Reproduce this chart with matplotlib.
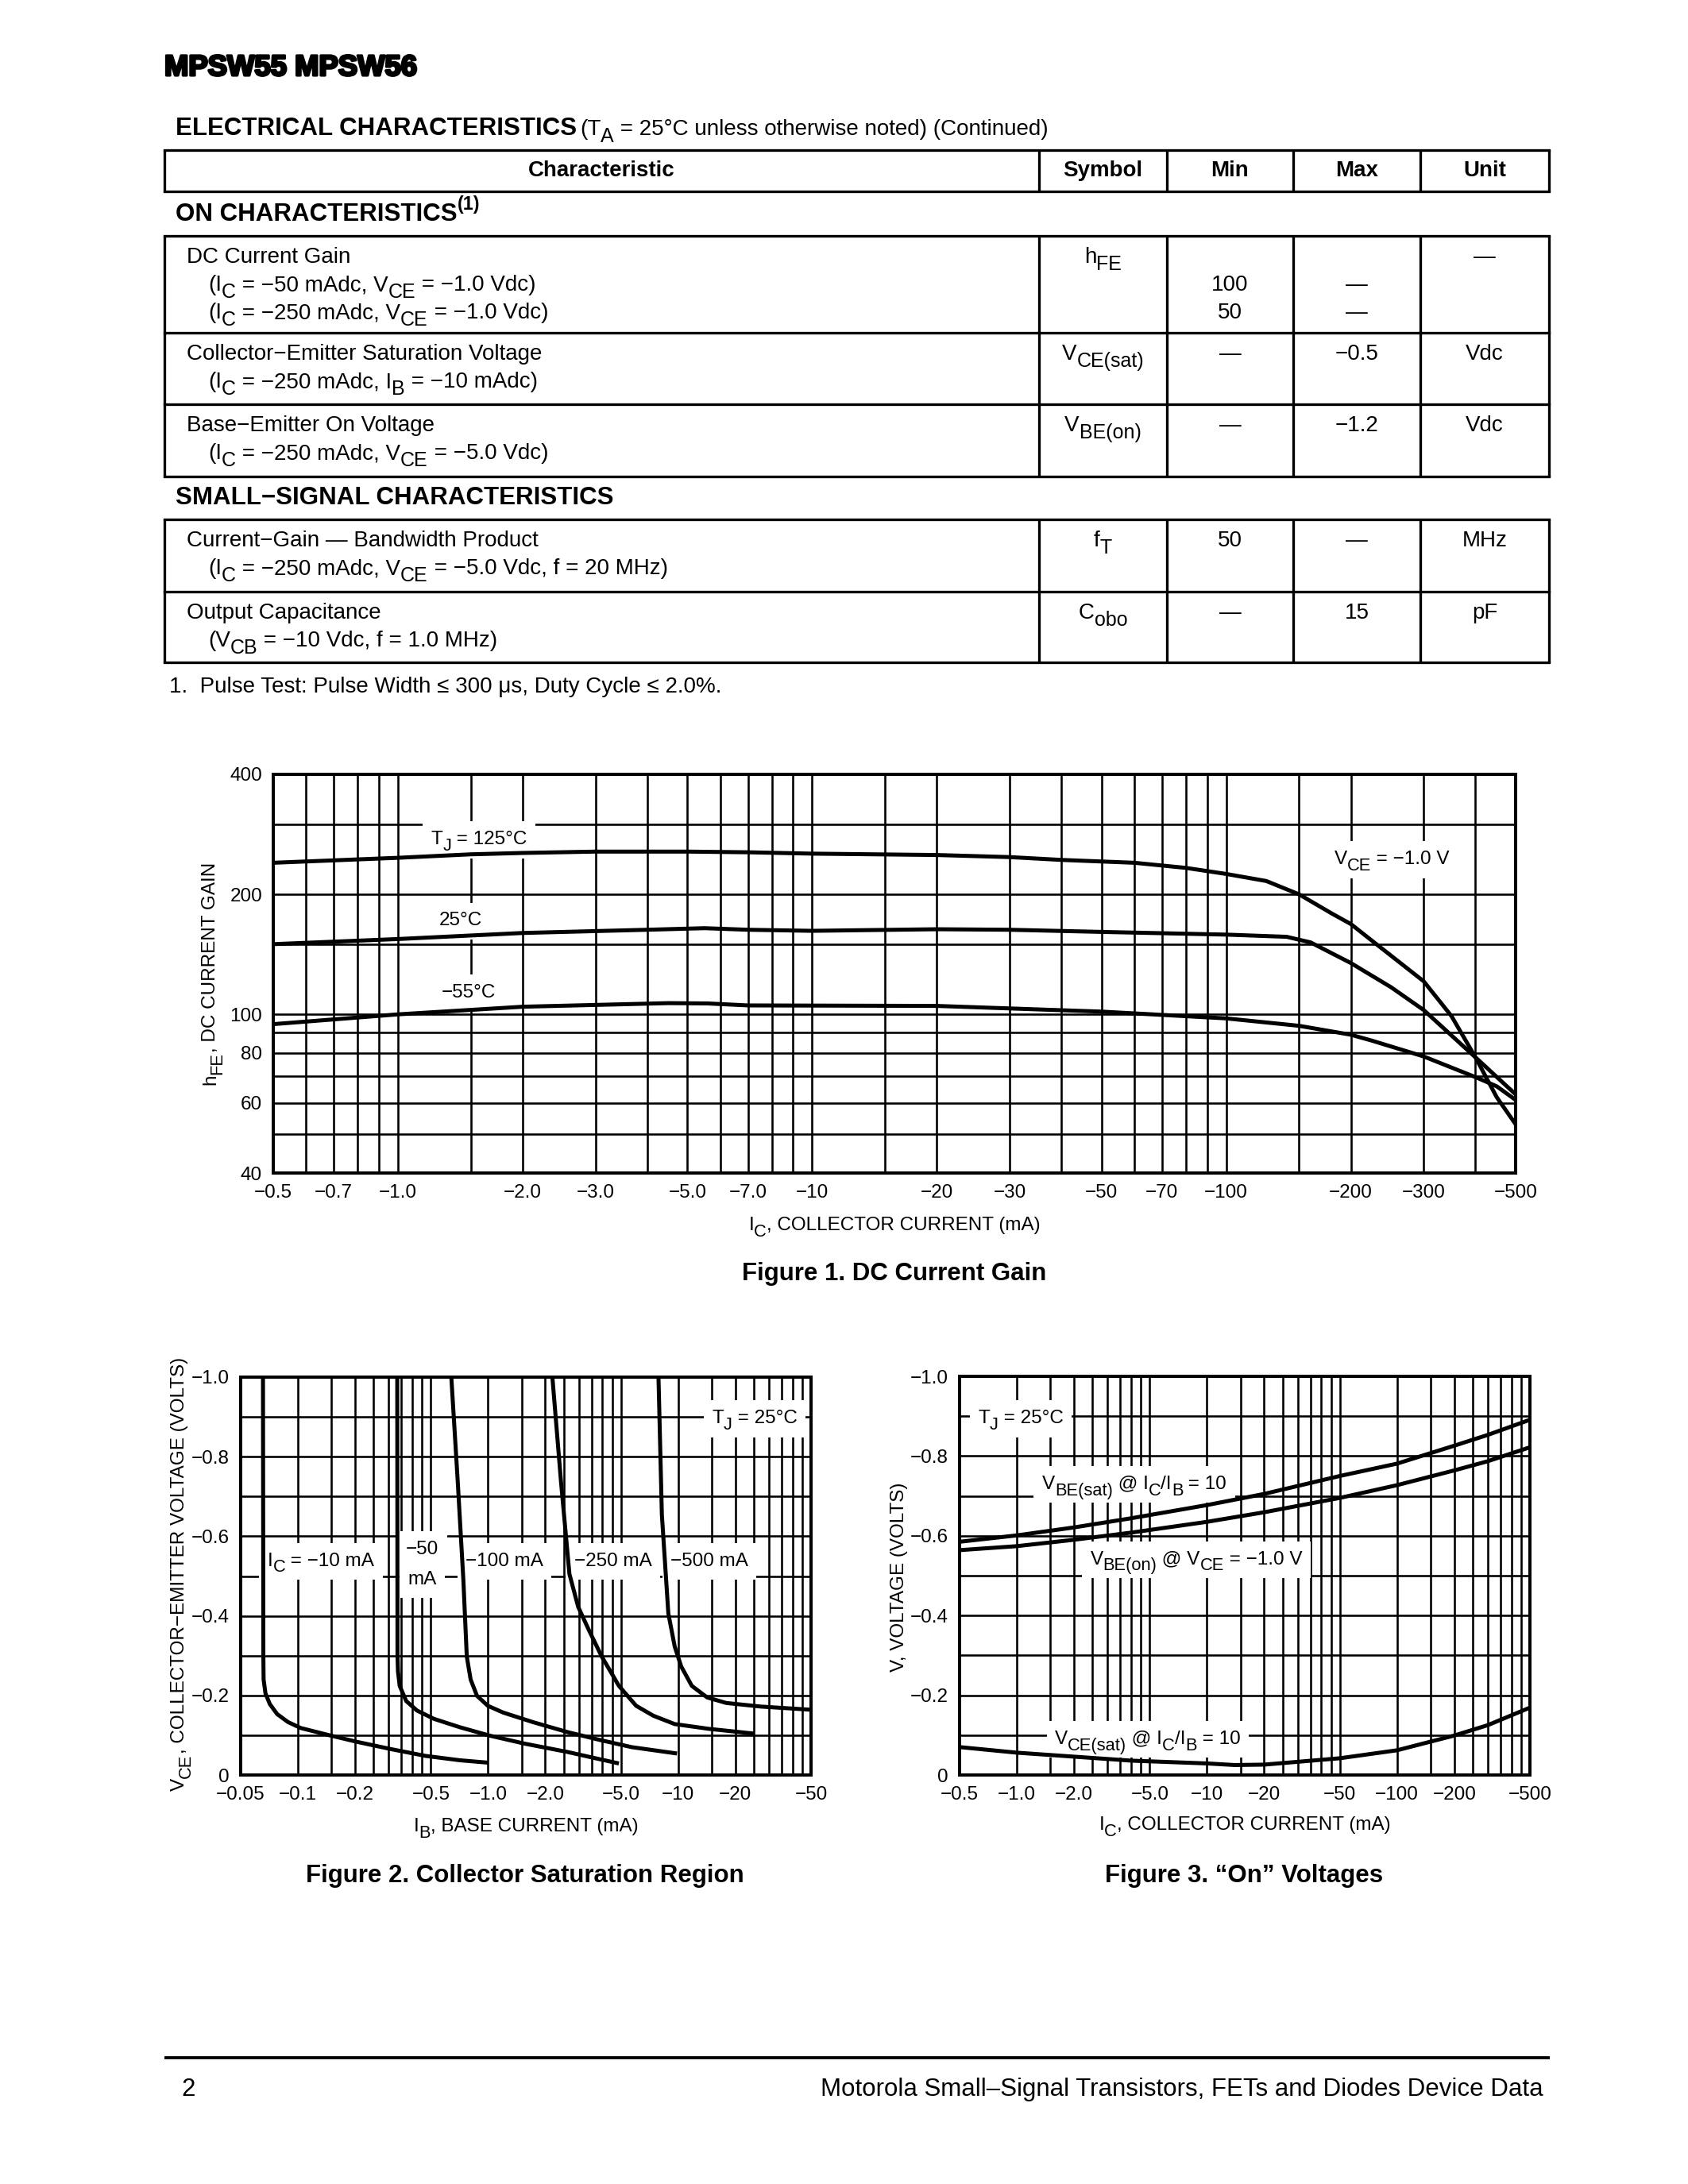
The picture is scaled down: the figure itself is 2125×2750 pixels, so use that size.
import re
import numpy as np
import matplotlib
matplotlib.use("Agg")
import matplotlib.pyplot as plt
import matplotlib.patheffects as pe
from matplotlib.font_manager import FontProperties
from matplotlib.patches import Rectangle
from matplotlib.ticker import NullFormatter
from matplotlib import transforms

W, H = 2125, 2750
SANS = 'Liberation Sans'
plt.rcParams['font.family'] = SANS

# ---------------- table text ----------------
col_heads = ['Characteristic', 'Symbol', 'Min', 'Max', 'Unit']
on_rows = [
    (['DC Current Gain',
      '(I_{C} = −50 mAdc, V_{CE} = −1.0 Vdc)',
      '(I_{C} = −250 mAdc, V_{CE} = −1.0 Vdc)'],
     'h_{FE}', ['', '100', '50'], ['', '—', '—'], ['—']),
    (['Collector−Emitter Saturation Voltage',
      '(I_{C} = −250 mAdc, I_{B} = −10 mAdc)'],
     'V_{CE(sat)}', ['—'], ['−0.5'], ['Vdc']),
    (['Base−Emitter On Voltage',
      '(I_{C} = −250 mAdc, V_{CE} = −5.0 Vdc)'],
     'V_{BE(on)}', ['—'], ['−1.2'], ['Vdc']),
]
ss_rows = [
    (['Current−Gain — Bandwidth Product',
      '(I_{C} = −250 mAdc, V_{CE} = −5.0 Vdc, f = 20 MHz)'],
     'f_{T}', ['50'], ['—'], ['MHz']),
    (['Output Capacitance',
      '(V_{CB} = −10 Vdc, f = 1.0 MHz)'],
     'C_{obo}', ['—'], ['15'], ['pF']),
]

# ---------------- Figure 1 data: hFE vs IC (mA, magnitude) ----------------
hfe125_ic = [0.5, 1.0, 1.5, 2.0, 3.0, 5.0, 7.0, 10, 20, 30, 40, 60, 80, 100,
             125, 150, 180, 200, 225, 300, 350, 400, 450, 500]
hfe125 = [240, 247, 252, 254, 256, 256, 255, 253, 251, 248, 244, 240, 233, 225,
          216, 200, 179, 168.5, 153, 121, 99, 78, 62, 53]
hfe25_ic = [0.5, 1.0, 2.0, 4.0, 5.5, 7.0, 10, 20, 30, 50, 100, 140, 160, 200,
            250, 300, 400, 500]
hfe25 = [150, 154.5, 160, 163, 164.5, 163, 162, 163.5, 163, 161, 158.5, 156.5,
         151.5, 134.5, 117, 102.5, 78, 63]
hfe55_ic = [0.5, 1.0, 2.0, 4.5, 5.6, 7.0, 10, 20, 50, 100, 150, 200, 225, 300,
            400, 450, 500]
hfe55 = [94.5, 100, 104.5, 106.7, 106.5, 105.3, 105.2, 105, 101.6, 97.7, 93.6,
         88.9, 85.9, 78.4, 69.6, 66, 61]

f1_xticks = [0.5, 0.7, 1, 2, 3, 5, 7, 10, 20, 30, 50, 70, 100, 200, 300, 500]
f1_xlabels = ['−0.5', '−0.7', '−1.0', '−2.0', '−3.0', '−5.0', '−7.0', '−10',
              '−20', '−30', '−50', '−70', '−100', '−200', '−300', '−500']
f1_xgrid = [0.5, 0.6, 0.7, 0.8, 0.9, 1, 1.5, 2, 3, 4, 5, 6, 7, 8, 9, 10, 15,
            20, 30, 40, 50, 60, 70, 80, 90, 100, 150, 200, 300, 400, 500]
f1_yticks = [40, 60, 80, 100, 200, 400]
f1_ygrid = [40, 50, 60, 70, 80, 90, 100, 150, 200, 300, 400]

# ---------------- Figure 2 data: VCE vs IB (mA, volts, magnitude) ----------------
ic10_ib = [0.0655, 0.0658, 0.066, 0.0675, 0.0712, 0.0778, 0.0887, 0.1036, 0.149,
           0.206, 0.309, 0.469, 0.711, 1.0]
ic10_v = [1.0, 0.30, 0.24, 0.205, 0.178, 0.153, 0.133, 0.118, 0.099, 0.083,
          0.065, 0.048, 0.037, 0.031]
ic50_ib = [0.333, 0.334, 0.336, 0.343, 0.371, 0.423, 0.520, 0.711, 1.02, 1.55,
           2.61, 3.76, 4.88]
ic50_v = [1.0, 0.30, 0.26, 0.224, 0.186, 0.162, 0.141, 0.120, 0.099, 0.079,
          0.058, 0.041, 0.029]
ic100_ib = [0.641, 0.693, 0.742, 0.773, 0.81, 0.875, 0.997, 1.20, 1.72, 2.61,
            3.96, 5.70, 9.86]
ic100_v = [1.0, 0.737, 0.489, 0.298, 0.240, 0.199, 0.174, 0.157, 0.133, 0.108,
           0.087, 0.070, 0.054]
ic250_ib = [2.18, 2.42, 2.68, 2.98, 3.39, 3.96, 4.88, 6.01, 7.40, 9.59, 14.5, 25.1]
ic250_v = [1.0, 0.737, 0.505, 0.4225, 0.3645, 0.298, 0.224, 0.174, 0.149,
           0.128, 0.116, 0.104]
ic500_ib = [7.88, 8.21, 8.88, 9.59, 10.37, 11.8, 14.2, 17.9, 27.2, 50]
ic500_v = [1.0, 0.6545, 0.406, 0.323, 0.273, 0.224, 0.195, 0.181, 0.172, 0.164]

f2_xticks = [0.05, 0.1, 0.2, 0.5, 1, 2, 5, 10, 20, 50]
f2_xlabels = ['−0.05', '−0.1', '−0.2', '−0.5', '−1.0', '−2.0', '−5.0', '−10',
              '−20', '−50']

# ---------------- Figure 3 data: V vs IC (mA, volts, magnitude) ----------------
on_ic = [0.5, 1, 2, 4, 10, 20, 50, 100, 200, 300, 500]
vbe_sat = [0.585, 0.601, 0.621, 0.644, 0.677, 0.705, 0.750, 0.781, 0.826, 0.853, 0.891]
vbe_on = [0.564, 0.574, 0.590, 0.608, 0.635, 0.659, 0.695, 0.727, 0.764, 0.787, 0.822]
sat_ic = [0.5, 1, 2, 4, 10, 14, 20, 50, 100, 200, 300, 500]
vce_sat = [0.070, 0.056, 0.046, 0.036, 0.029, 0.025, 0.026, 0.042, 0.062, 0.099, 0.125, 0.169]

f3_xticks = [0.5, 1, 2, 5, 10, 20, 50, 100, 200, 500]
f3_xlabels = ['−0.5', '−1.0', '−2.0', '−5.0', '−10', '−20', '−50', '−100',
              '−200', '−500']

v_yticks = [0, 0.2, 0.4, 0.6, 0.8, 1.0]
v_ylabels = ['0', '−0.2', '−0.4', '−0.6', '−0.8', '−1.0']
v_ygrid = [0, 0.1, 0.2, 0.3, 0.4, 0.5, 0.6, 0.7, 0.8, 0.9, 1.0]


def log_grid(lo, hi):
    out = []
    d = lo
    while d < hi * 1.0001:
        for m in range(1, 10):
            v = d * m
            if lo * 0.9999 <= v <= hi * 1.0001:
                out.append(v)
        d *= 10
    return out


fig = plt.figure(figsize=(W / 250, H / 250), dpi=250)
fig.patch.set_facecolor('white')
renderer = fig.canvas.get_renderer()


def text_w(s, fp):
    # width in points, spaces included
    w1 = renderer.get_text_width_height_descent('x' + s + 'x', fp, ismath=False)[0]
    w0 = renderer.get_text_width_height_descent('xx', fp, ismath=False)[0]
    return (w1 - w0) * 72 / fig.dpi


def rich(ax, x, y, s, size, ha='left', rot=0, weight='normal', center=False,
         box=False, trans=None, zorder=3):
    """Text with datasheet style subscripts _{..} and superscripts ^{..}."""
    trans = ax.transData if trans is None else trans
    parts = []
    for tok in re.split(r'(_\{[^}]*\}|\^\{[^}]*\})', s):
        if not tok:
            continue
        if tok.startswith('_{'):
            parts.append((tok[2:-1], 0.9, -0.32))
        elif tok.startswith('^{'):
            parts.append((tok[2:-1], 0.75, 0.45))
        else:
            parts.append((tok, 1.0, 0.0))
    widths = [text_w(t, FontProperties(family=SANS, weight=weight, size=size * sc))
              for t, sc, _ in parts]
    total = sum(widths)
    adv = {'left': 0.0, 'center': -total / 2, 'right': -total}[ha]
    base = -0.36 * size if center else 0.0
    c, sn = np.cos(np.radians(rot)), np.sin(np.radians(rot))
    if box:
        pad = 3.0
        x0, y0 = adv - pad, base - 0.3 * size - pad
        rect = Rectangle((x0 / 72, y0 / 72), (total + 2 * pad) / 72, (1.05 * size + 2 * pad) / 72,
                         facecolor='white', edgecolor='none', zorder=zorder - 0.1,
                         transform=fig.dpi_scale_trans + transforms.ScaledTranslation(x, y, trans))
        ax.add_patch(rect)
    for (t, sc, rise), w in zip(parts, widths):
        r = rise * size + base
        dx = adv * c - r * sn
        dy = adv * sn + r * c
        ax.text(x, y, t, fontsize=size * sc, fontweight=weight, rotation=rot,
                rotation_mode='anchor', ha='left', va='baseline', zorder=zorder,
                transform=transforms.offset_copy(trans, fig=fig, x=dx, y=dy, units='points'))
        adv += w


# page layer in pixel coordinates
page = fig.add_axes([0, 0, 1, 1])
page.set_xlim(0, W)
page.set_ylim(H, 0)
page.axis('off')

page.text(207, 95, 'MPSW55 MPSW56', fontsize=10.5, fontweight='bold',
          va='baseline', path_effects=[pe.withStroke(linewidth=0.9, foreground='black')])
page.text(221, 170, 'ELECTRICAL CHARACTERISTICS', fontsize=9, fontweight='bold', va='baseline')
rich(page, 730, 170, '(T_{A} = 25°C unless otherwise noted) (Continued)', 8)

cols = [207, 1308, 1469, 1628, 1788, 1950]
LW = 0.95


def hline(y, x0=cols[0], x1=cols[-1], lw=LW):
    page.plot([x0, x1], [y, y], color='black', lw=lw, solid_capstyle='projecting')


def vlines(y0, y1):
    for x in cols:
        page.plot([x, x], [y0, y1], color='black', lw=LW, solid_capstyle='butt')


# header row
hline(189)
hline(241)
vlines(189, 241)
for i, t in enumerate(col_heads):
    page.text((cols[i] + cols[i + 1]) / 2, 222, t, fontsize=8, fontweight='bold',
              ha='center', va='baseline')

rich(page, 221, 278, 'ON CHARACTERISTICS^{(1)}', 9, weight='bold')


def draw_block(top, heights, rows):
    y = top
    hline(top)
    for h, (desc, sym, mn, mx, unit) in zip(heights, rows):
        for k, line in enumerate(desc):
            rich(page, 235 if k == 0 else 262, y + 34 + 35 * k, line, 8)
        rich(page, (cols[1] + cols[2]) / 2, y + 34, sym, 8, ha='center')
        for ci, vals in ((2, mn), (3, mx), (4, unit)):
            for k, v in enumerate(vals):
                if v:
                    page.text((cols[ci] + cols[ci + 1]) / 2, y + 34 + 35 * k, v,
                              fontsize=8, ha='center', va='baseline')
        vlines(y, y + h)
        y += h
        hline(y)


draw_block(297, [122, 90, 91], on_rows)
page.text(221, 635, 'SMALL−SIGNAL CHARACTERISTICS', fontsize=9, fontweight='bold', va='baseline')
draw_block(654, [91, 89], ss_rows)
page.text(213, 872, '1.  Pulse Test: Pulse Width ≤ 300 μs, Duty Cycle ≤ 2.0%.',
          fontsize=8, va='baseline')

# footer
page.plot([207, 1951], [2591, 2591], color='black', lw=1.1, solid_capstyle='butt')
page.text(228, 2639, '2', fontsize=9, va='baseline')
page.text(1943, 2639, 'Motorola Small–Signal Transistors, FETs and Diodes Device Data',
          fontsize=9, va='baseline', ha='right')

TICK = 7
CURVE = dict(color='black', lw=1.45, zorder=4, solid_capstyle='butt', solid_joinstyle='round')


def px_axes(left, top, right, bottom):
    return fig.add_axes([left / W, 1 - bottom / H, (right - left) / W, (bottom - top) / H])


def style(ax, xgrid, ygrid, xticks, xlabels, yticks, ylabels):
    ax.set_xticks(xticks, xlabels)
    ax.set_xticks(xgrid, minor=True)
    ax.set_yticks(yticks, ylabels)
    ax.set_yticks(ygrid, minor=True)
    ax.xaxis.set_minor_formatter(NullFormatter())
    ax.yaxis.set_minor_formatter(NullFormatter())
    ax.grid(True, which='both', color='black', lw=0.75)
    ax.tick_params(which='both', length=0, labelsize=TICK, pad=4)
    for s in ax.spines.values():
        s.set_linewidth(1.15)


def labels(ax, xlab, xy_x, ylab, xy_y):
    rich(ax, xy_x[0], xy_x[1], xlab, TICK, ha='center', center=True, trans=ax.transAxes)
    rich(ax, xy_y[0], xy_y[1], ylab, TICK, ha='center', center=True, rot=90,
         trans=ax.transAxes)


# ---------- Figure 1 ----------
ax1 = px_axes(344, 975, 1908, 1477)
ax1.set_xscale('log')
ax1.set_yscale('log')
ax1.set_xlim(0.5, 500)
ax1.set_ylim(40, 400)
style(ax1, f1_xgrid, f1_ygrid, f1_xticks, f1_xlabels, f1_yticks, [str(v) for v in f1_yticks])
ax1.plot(hfe125_ic, hfe125, **CURVE)
ax1.plot(hfe25_ic, hfe25, **CURVE)
ax1.plot(hfe55_ic, hfe55, **CURVE)
lab = dict(ha='center', center=True, box=True)
rich(ax1, 1.57, 278, 'T_{J} = 125°C', TICK, **lab)
rich(ax1, 1.42, 174, '25°C', TICK, **lab)
rich(ax1, 1.48, 115, '−55°C', TICK, **lab)
rich(ax1, 251, 248, 'V_{CE} = −1.0 V', TICK, **lab)
labels(ax1, 'I_{C}, COLLECTOR CURRENT (mA)', (0.5, -0.126),
       'h_{FE}, DC CURRENT GAIN', (-0.052, 0.5))
page.text(1126, 1612, 'Figure 1. DC Current Gain', fontsize=9, fontweight='bold', ha='center', va='baseline')

# ---------- Figure 2 ----------
ax2 = px_axes(303, 1734, 1021, 2235)
ax2.set_xscale('log')
ax2.set_xlim(0.05, 50)
ax2.set_ylim(0, 1.0)
style(ax2, log_grid(0.05, 50), v_ygrid, f2_xticks, f2_xlabels, v_yticks, v_ylabels)
for xs, ys in ((ic10_ib, ic10_v), (ic50_ib, ic50_v), (ic100_ib, ic100_v),
               (ic250_ib, ic250_v), (ic500_ib, ic500_v)):
    ax2.plot(xs, ys, **CURVE)
rich(ax2, 0.132, 0.543, 'I_{C} = −10 mA', TICK, **lab)
rich(ax2, 0.451, 0.573, '−50', TICK, **lab)
rich(ax2, 0.451, 0.497, 'mA', TICK, **lab)
rich(ax2, 1.22, 0.543, '−100 mA', TICK, **lab)
rich(ax2, 4.53, 0.543, '−250 mA', TICK, **lab)
rich(ax2, 14.6, 0.543, '−500 mA', TICK, **lab)
rich(ax2, 25.2, 0.902, 'T_{J} = 25°C', TICK, **lab)
labels(ax2, 'I_{B}, BASE CURRENT (mA)', (0.5, -0.124),
       'V_{CE}, COLLECTOR−EMITTER VOLTAGE (VOLTS)', (-0.111, 0.505))
page.text(661, 2370, 'Figure 2. Collector Saturation Region', fontsize=9, fontweight='bold',
          ha='center', va='baseline')

# ---------- Figure 3 ----------
ax3 = px_axes(1208, 1733, 1926, 2235)
ax3.set_xscale('log')
ax3.set_xlim(0.5, 500)
ax3.set_ylim(0, 1.0)
style(ax3, log_grid(0.5, 500), v_ygrid, f3_xticks, f3_xlabels, v_yticks, v_ylabels)
ax3.plot(on_ic, vbe_sat, **CURVE)
ax3.plot(on_ic, vbe_on, **CURVE)
ax3.plot(sat_ic, vce_sat, **CURVE)
rich(ax3, 1.05, 0.900, 'T_{J} = 25°C', TICK, **lab)
rich(ax3, 4.15, 0.735, 'V_{BE(sat)} @ I_{C}/I_{B} = 10', TICK, **lab)
rich(ax3, 8.79, 0.546, 'V_{BE(on)} @ V_{CE} = −1.0 V', TICK, **lab)
rich(ax3, 4.89, 0.0956, 'V_{CE(sat)} @ I_{C}/I_{B} = 10', TICK, **lab)
labels(ax3, 'I_{C}, COLLECTOR CURRENT (mA)', (0.5, -0.12),
       'V, VOLTAGE (VOLTS)', (-0.110, 0.496))
page.text(1566, 2370, 'Figure 3. “On” Voltages', fontsize=9, fontweight='bold',
          ha='center', va='baseline')

fig.savefig('out.png', dpi=250, facecolor='white')
